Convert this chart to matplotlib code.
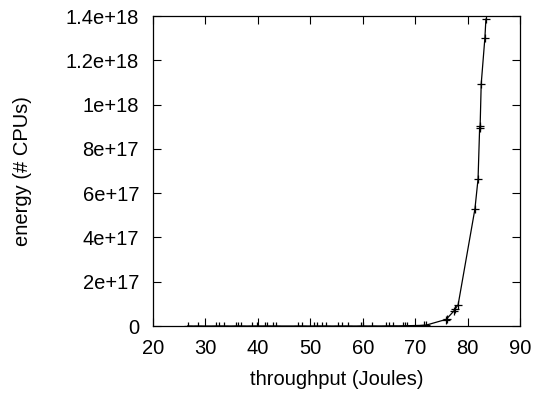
import matplotlib
matplotlib.use("Agg")
import matplotlib.pyplot as plt

throughput = [26.6, 28.5, 32.0, 32.6, 33.5, 35.8, 36.3, 36.7, 38.9, 39.8,
              41.4, 41.8, 42.8, 43.5, 47.7, 48.4, 50.7, 51.3, 52.2, 53.0,
              55.3, 56.0, 57.1, 59.6, 60.1, 61.7, 64.4, 65.1, 65.8, 67.6,
              68.1, 68.5, 71.6, 72.1, 75.8, 76.0, 77.4, 77.6, 78.2,
              81.4, 82.0, 82.3, 82.4, 82.6, 83.3, 83.5]
energy = [0, 0, 0, 0, 0, 0, 0, 0, 0, 0,
          0, 0, 0, 0, 0, 0, 0, 0, 0, 0,
          0, 0, 0, 0, 0, 1e14, 2e14, 3e14, 5e14, 8e14,
          1e15, 1.3e15, 3e15, 4e15, 2.9e16, 3.2e16, 6.8e16, 7.6e16, 9.6e16,
          5.28e17, 6.64e17, 8.95e17, 9.05e17, 1.093e18, 1.30e18, 1.386e18]

plt.rcParams['font.family'] = ['Liberation Sans', 'DejaVu Sans']
fig = plt.figure(figsize=(5.36, 3.94), dpi=100)
ax = fig.add_axes([153/536, 1 - 326/394, 367/536, 310/394])
ax.plot(throughput, energy, color='black', linewidth=0.9, marker='+',
        markersize=5.5, markeredgewidth=0.9)
ax.set_xlim(20, 90)
ax.set_ylim(0, 1.4e18)
ax.set_xticks(range(20, 91, 10))
yt = [0, 2e17, 4e17, 6e17, 8e17, 1e18, 1.2e18, 1.4e18]
ax.set_yticks(yt)
ax.set_yticklabels(['0', '2e+17', '4e+17', '6e+17', '8e+17', '1e+18', '1.2e+18', '1.4e+18'])
ax.tick_params(axis='both', direction='in', top=True, right=True, labelsize=14.5, length=6)
ax.tick_params(axis='y', pad=10)
ax.tick_params(axis='x', pad=9)
for s in ax.spines.values():
    s.set_linewidth(0.9)
ax.set_xlabel('throughput (Joules)', fontsize=14.5, labelpad=9)
ax.set_ylabel('energy (# CPUs)', fontsize=14.5, labelpad=24)
fig.savefig('out.png', dpi=100)
